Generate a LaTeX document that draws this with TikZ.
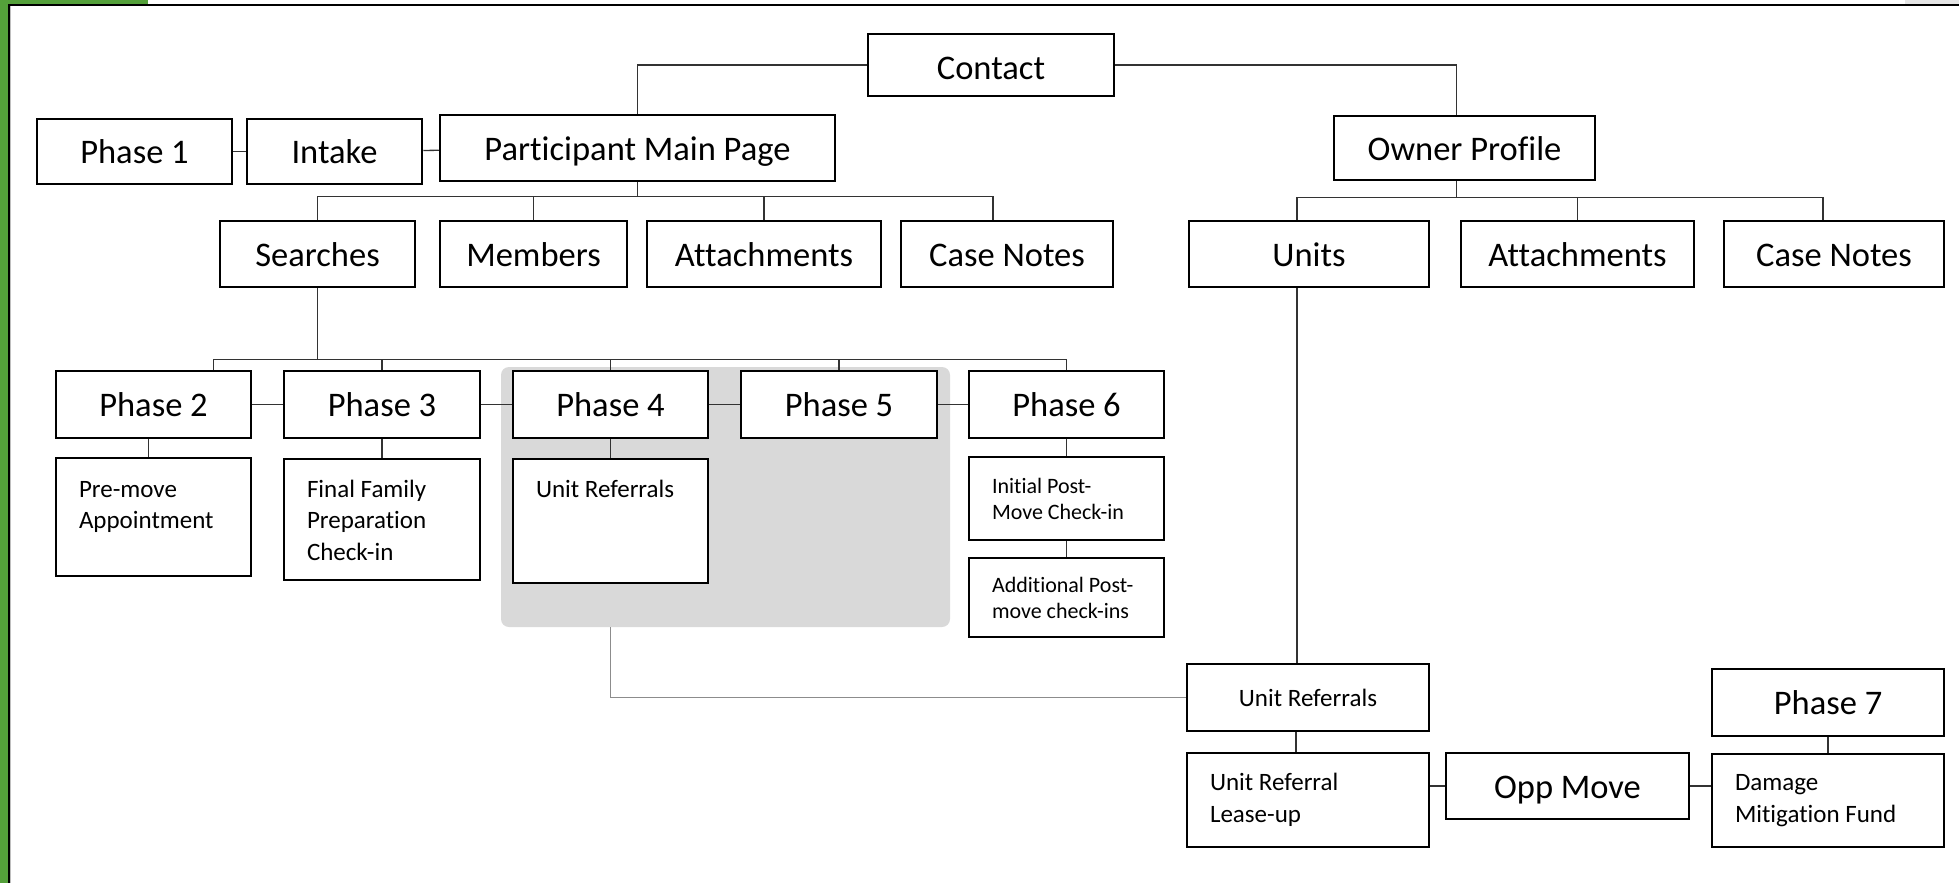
\documentclass[tikz,border=0pt]{standalone}
\usepackage{fontspec}
\setmainfont{Carlito}[Ligatures=NoCommon]
\definecolor{framegreen}{RGB}{84,160,58}
\definecolor{groupgray}{RGB}{217,217,217}
\tikzset{
    box/.style={draw, line width=2.5pt, fill=white, inner sep=0pt, text height=24pt, text depth=0pt, font=\fontsize{34.5}{40}\selectfont},
    note/.style={draw, line width=2.5pt, fill=white, inner xsep=23pt, inner ysep=0pt, align=flush left, font=\fontsize{25}{31.5}\selectfont},
    small note/.style={note, font=\fontsize{22}{26}\selectfont},
    top note/.style={draw, line width=2.5pt, fill=white, inner xsep=23pt, inner ysep=21pt, font=\fontsize{25}{31.5}\selectfont},
    link/.style={draw=black!80, line width=1.3pt},
    faint link/.style={draw=black!45, line width=1.3pt},
}
\begin{document}
\begin{tikzpicture}[x=1pt, y=-1pt]
    \useasboundingbox (0,0) rectangle (1959,883);
    \fill[framegreen] (0,0) rectangle (8,883);
    \fill[framegreen] (0,0) rectangle (148,5);
    \fill[black!10] (1905,0) rectangle (1959,4);
    \draw[line width=2pt] (9,883) -- (9,5) -- (1959,5);
    \draw[black!25, line width=0.8pt] (10.8,883) -- (10.8,6.5);

    \node[fill=groupgray, rounded corners=8pt, minimum width=449pt, minimum height=260pt, inner sep=0pt] (group) at (725.5,497) {};

    \node[box, text height=30pt, minimum width=246pt, minimum height=62pt] (contact) at (991,65) {Contact};
    \node[box, minimum width=195pt, minimum height=65pt] (phase1) at (134.5,151.5) {Phase 1};
    \node[box, minimum width=175pt, minimum height=65pt] (intake) at (334.5,151.5) {Intake};
    \node[box, minimum width=395pt, minimum height=66pt] (pmain) at (637.5,148) {Participant Main Page};
    \node[box, minimum width=261pt, minimum height=64pt] (owner) at (1464.5,148) {Owner Profile};

    \node[box, minimum width=195pt, minimum height=66pt] (searches) at (317.5,254) {Searches};
    \node[box, minimum width=187pt, minimum height=66pt] (members) at (533.5,254) {Members};
    \node[box, minimum width=234pt, minimum height=66pt] (attachP) at (764,254) {Attachments};
    \node[box, minimum width=212pt, minimum height=66pt] (notesP) at (1007,254) {Case Notes};
    \node[box, minimum width=240pt, minimum height=66pt] (units) at (1309,254) {Units};
    \node[box, minimum width=233pt, minimum height=66pt] (attachO) at (1577.5,254) {Attachments};
    \node[box, minimum width=220pt, minimum height=66pt] (notesO) at (1834,254) {Case Notes};

    \node[box, minimum width=195pt, minimum height=67pt] (phase2) at (153.5,404.5) {Phase 2};
    \node[box, minimum width=196pt, minimum height=67pt] (phase3) at (382,404.5) {Phase 3};
    \node[box, minimum width=195pt, minimum height=67pt] (phase4) at (610.5,404.5) {Phase 4};
    \node[box, minimum width=196pt, minimum height=67pt] (phase5) at (839,404.5) {Phase 5};
    \node[box, minimum width=195pt, minimum height=67pt] (phase6) at (1066.5,404.5) {Phase 6};

    \node[top note, inner ysep=23pt] (premove) at (153.5,517) {\parbox[c][72pt][t]{149pt}{\raggedright Pre-move\\Appointment}};
    \node[top note] (final) at (382,519.5) {\parbox[c][79pt][t]{150pt}{\raggedright Final Family\\Preparation\\Check-in}};
    \node[top note] (unitrefA) at (610.5,521) {\parbox[c][82pt][t]{149pt}{\raggedright Unit Referrals}};
    \node[small note, text width=149pt, minimum height=83pt] (initial) at (1066.5,498.5) {Initial Post-\\Move Check-in};
    \node[small note, text width=149pt, minimum height=79pt] (additional) at (1066.5,597.5) {Additional Post-\\move check-ins};

    \node[note, align=flush center, text width=196pt, minimum height=67pt] (unitrefB) at (1308,697.5) {Unit Referrals};
    \node[note, text width=196pt, minimum height=94pt] (leaseup) at (1308,800) {Unit Referral\\Lease-up};
    \node[box, minimum width=243pt, minimum height=66pt] (oppmove) at (1567.5,786) {Opp Move};
    \node[box, minimum width=232pt, minimum height=67pt] (phase7) at (1828,702.5) {Phase 7};
    \node[note, text width=186pt, minimum height=93pt] (damage) at (1828,800.5) {Damage\\Mitigation Fund};

    \draw[link] (contact.west) -| (pmain.north);
    \draw[link] (contact.east) -| ([xshift=-8pt]owner.north);
    \draw[link] (phase1) -- (intake);
    \draw[link] (intake) -- (pmain);

    \draw[link] (pmain.south) -- ++(0,14) coordinate (pbus);
    \draw[link] (searches.north) |- ([xshift=-14pt]notesP.north |- pbus) -- ([xshift=-14pt]notesP.north);
    \foreach \n in {members, attachP}
        \draw[link] (\n.north) -- (\n.north |- pbus);

    \draw[link] ([xshift=-8pt]owner.south) -- ++(0,16) coordinate (obus);
    \draw[link] ([xshift=-12pt]units.north) |- ([xshift=-11pt]notesO.north |- obus) -- ([xshift=-11pt]notesO.north);
    \draw[link] (attachO.north) -- (attachO.north |- obus);

    \draw[link] (searches.south) -- ++(0,71) coordinate (sbus);
    \draw[link] ([xshift=60pt]phase2.north) |- (phase6.north |- sbus) -- (phase6.north);
    \foreach \n in {phase3, phase4, phase5}
        \draw[link] (\n.north) -- (\n.north |- sbus);
    \draw[link] (phase2) -- (phase3);
    \draw[link] (phase3) -- (phase4);
    \draw[link] (phase4) -- (phase5);
    \draw[link] (phase5) -- (phase6);

    \draw[link] ([xshift=-5pt]phase2.south) -- ([xshift=-5pt]phase2.south |- premove.north);
    \draw[link] (phase3) -- (final);
    \draw[link] (phase4) -- (unitrefA);
    \draw[link] (phase6) -- (initial);
    \draw[link] (initial) -- (additional);

    \draw[faint link] (unitrefA.south |- group.south) |- (unitrefB.west);
    \draw[link] ([xshift=-12pt]units.south) -- ([xshift=-12pt]units.south |- unitrefB.north);
    \draw[link] ([xshift=-12pt]unitrefB.south) -- ([xshift=-12pt]leaseup.north);
    \draw[link] (oppmove.west) -- (oppmove.west -| leaseup.east);
    \draw[link] (oppmove.east) -- (oppmove.east -| damage.west);
    \draw[link] (phase7) -- (damage);
\end{tikzpicture}
\end{document}
